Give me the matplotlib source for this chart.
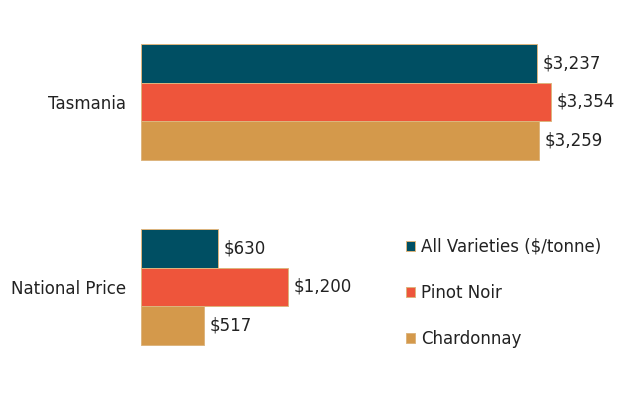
import matplotlib
matplotlib.use("Agg")
import matplotlib.pyplot as plt
import numpy as np

categories = ["Tasmania", "National Price"]
series_names = ["All Varieties ($/tonne)", "Pinot Noir", "Chardonnay"]
all_varieties = [3237, 630]
pinot_noir = [3354, 1200]
chardonnay = [3259, 517]
colors = ["#004F63", "#EE553B", "#D4994B"]

plt.rcParams['font.family'] = ['DejaVu Sans']
FS = 12

fig = plt.figure(figsize=(6.4, 4.2), dpi=100)
ax = fig.add_axes([141/640, 0, 489/640, 1])

y = np.arange(len(categories))
h = 0.21
offsets = [-h, 0, h]
for vals, name, col, off in zip([all_varieties, pinot_noir, chardonnay], series_names, colors, offsets):
    bars = ax.barh(y + off, vals, height=h, color=col, edgecolor="#DDB57E", linewidth=0.7, label=name)
    ax.bar_label(bars, labels=[f"${v:,.0f}" for v in vals], padding=4, fontsize=FS, color="#222222")

ax.set_xlim(0, 4000)
ax.set_ylim(1 + (420 - 287) / 185, -102 / 185)
ax.set_yticks(y)
ax.set_yticklabels(categories, fontsize=FS, color="#222222")
ax.tick_params(axis='y', length=0, pad=11)
ax.set_xticks([])
for s in ax.spines.values():
    s.set_visible(False)

leg = ax.legend(loc="upper left", bbox_to_anchor=(399/640, 1 - 231/420), bbox_transform=fig.transFigure,
                frameon=False, fontsize=FS, handlelength=0.55, handleheight=0.55, handletextpad=0.35,
                labelspacing=1.7, borderaxespad=0)
for t in leg.get_texts():
    t.set_color("#222222")

fig.savefig("out.png", dpi=100)
